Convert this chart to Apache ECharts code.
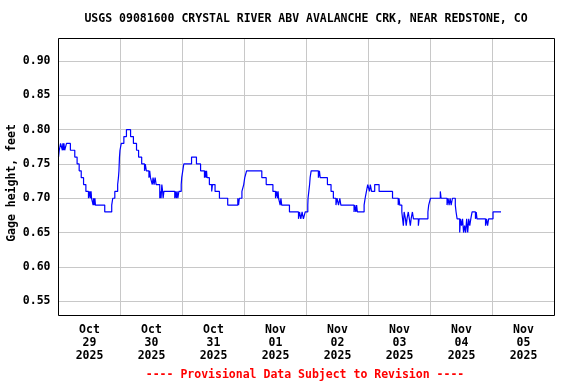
<!DOCTYPE html>
<html>
<head>
<meta charset="utf-8">
<script src="https://cdn.jsdelivr.net/npm/echarts@6/dist/echarts.min.js"></script>
<style>html,body{margin:0;padding:0;background:#fff}#c{width:576px;height:384px}</style>
</head>
<body>
<div id="c"></div>
<script>
// Hours since 2025-10-29 00:00 at which gage height changes, and the new value
var hours = [0,0.3,0.8,1.5,1.7,1.9,2.1,2.4,3.1,4.6,6.3,7.2,8.0,8.8,9.7,10.6,11.6,12.1,12.3,12.6,12.8,13.4,13.6,13.9,14.1,14.3,17.9,20.6,21.0,21.8,22.9,23.2,23.4,23.5,23.6,23.8,24.3,25.3,26.3,27.9,29.0,30.2,31.0,32.2,33.3,33.6,34.0,35.0,35.3,35.6,36.3,36.6,37.0,37.4,37.8,39.2,39.4,39.7,40.0,40.3,40.5,40.8,45.0,45.3,45.6,45.9,46.2,46.6,47.5,47.7,48.1,48.5,51.5,53.4,55.0,56.5,56.8,57.1,57.3,57.5,58.4,59.3,59.6,60.6,62.3,65.5,69.4,69.7,70.0,71.0,71.7,72.1,72.8,78.7,80.4,83.0,84.0,84.4,84.8,85.0,85.2,85.8,86.1,86.4,89.4,92.9,93.3,93.8,94.3,94.8,95.5,96.5,96.6,96.9,97.2,97.4,97.8,100.6,101.0,101.3,104.1,105.5,106.4,107.4,107.8,108.4,108.9,109.3,114.4,114.7,115.1,115.4,115.7,118.3,118.7,119.2,119.7,120.4,120.7,121.2,122.4,124.1,129.3,131.5,131.8,132.1,132.9,133.2,133.5,133.8,134.3,134.6,134.9,135.4,135.8,136.2,136.5,137.0,137.4,139.3,139.6,143.0,143.3,144.0,147.8,148.1,150.4,150.8,151.2,151.6,152.0,152.5,153.6,153.9,154.3,155.3,155.6,156.0,156.4,156.8,157.2,157.6,158.0,158.4,158.8,159.2,159.6,160.1,161.4,161.7,162.0,165.3,165.7,166.1,166.5,168.2,171.3];
var gage = [0.76,0.77,0.78,0.77,0.78,0.77,0.78,0.77,0.78,0.77,0.76,0.75,0.74,0.73,0.72,0.71,0.70,0.71,0.70,0.71,0.70,0.69,0.70,0.69,0.70,0.69,0.68,0.69,0.70,0.71,0.72,0.73,0.74,0.75,0.76,0.77,0.78,0.79,0.80,0.79,0.78,0.77,0.76,0.75,0.74,0.75,0.74,0.73,0.74,0.73,0.72,0.73,0.72,0.73,0.72,0.70,0.71,0.70,0.72,0.71,0.70,0.71,0.70,0.71,0.70,0.71,0.70,0.71,0.72,0.73,0.74,0.75,0.76,0.75,0.74,0.73,0.74,0.73,0.74,0.73,0.72,0.71,0.72,0.71,0.70,0.69,0.70,0.69,0.70,0.71,0.72,0.73,0.74,0.73,0.72,0.71,0.70,0.71,0.70,0.71,0.70,0.69,0.70,0.69,0.68,0.67,0.68,0.67,0.68,0.67,0.68,0.69,0.70,0.71,0.72,0.73,0.74,0.73,0.74,0.73,0.72,0.71,0.70,0.69,0.70,0.69,0.70,0.69,0.68,0.69,0.68,0.69,0.68,0.69,0.70,0.71,0.72,0.71,0.72,0.71,0.72,0.71,0.70,0.69,0.70,0.69,0.68,0.67,0.66,0.68,0.67,0.66,0.67,0.68,0.67,0.66,0.67,0.68,0.67,0.66,0.67,0.68,0.69,0.70,0.71,0.70,0.69,0.70,0.69,0.70,0.69,0.70,0.69,0.68,0.67,0.65,0.67,0.66,0.67,0.65,0.66,0.65,0.67,0.65,0.67,0.66,0.67,0.68,0.67,0.68,0.67,0.66,0.67,0.66,0.67,0.68,0.68];
// Day labels placed at noon of each day (hours 12, 36, ...)
var dayLabels = ['Oct\n29\n2025','Oct\n30\n2025','Oct\n31\n2025','Nov\n01\n2025','Nov\n02\n2025','Nov\n03\n2025','Nov\n04\n2025','Nov\n05\n2025'];
var yTicks = [0.55,0.60,0.65,0.70,0.75,0.80,0.85,0.90];
var titleText = 'USGS 09081600 CRYSTAL RIVER ABV AVALANCHE CRK, NEAR REDSTONE, CO';
var yName = 'Gage height, feet';
var footer = '---- Provisional Data Subject to Revision ----';

var FONT = '"DejaVu Sans Mono", "Liberation Mono", monospace';
var data = hours.map(function(h, i){ return [h, gage[i]]; });

var chart = echarts.init(document.getElementById('c'), null, {renderer:'canvas'});
chart.setOption({
  animation: false,
  backgroundColor: '#fff',
  grid: {left: 58.5, right: 21.5, top: 38.5, bottom: 68.5, show: true, borderColor: '#000', borderWidth: 1, backgroundColor: 'transparent', z: 10},
  xAxis: [
    {type: 'value', min: 0, max: 192, interval: 24,
     axisLine: {show: false}, axisTick: {show: false}, axisLabel: {show: false},
     splitLine: {show: true, lineStyle: {color: '#c8c8c8', width: 1}}},
    {type: 'value', min: 0, max: 192, interval: 12, position: 'bottom',
     axisLine: {show: false}, axisTick: {show: false}, splitLine: {show: false},
     axisLabel: {show: true, margin: 8, color: '#000', fontFamily: FONT, fontWeight: 'bold', fontSize: 11.5, lineHeight: 13,
       showMinLabel: false, showMaxLabel: false, hideOverlap: false,
       formatter: function(v){ var k = Math.round(v); if (k % 24 === 12) { return dayLabels[(k - 12) / 24] || ''; } return ''; }}}
  ],
  yAxis: {type: 'value', min: 0.529, max: 0.933,
    axisLine: {show: false},
    axisTick: {show: false, customValues: yTicks},
    axisLabel: {customValues: yTicks, margin: 8, color: '#000', fontFamily: FONT, fontWeight: 'bold', fontSize: 11.5,
      formatter: function(v){ return v.toFixed(2); }},
    splitLine: {show: true, lineStyle: {color: '#c8c8c8', width: 1}}},
  series: [{
    type: 'line', xAxisIndex: 0, step: 'end', data: data, showSymbol: false, symbol: 'none',
    lineStyle: {color: '#0000ff', width: 1.2}, silent: true
  }],
  graphic: [
    {type: 'text', x: 306, y: 19, style: {text: titleText, font: 'bold 11.5px ' + FONT, fill: '#000', align: 'center', verticalAlign: 'middle'}},
    {type: 'text', x: 12, y: 183, rotation: Math.PI / 2, style: {text: yName, font: 'bold 11.5px ' + FONT, fill: '#000', align: 'center', verticalAlign: 'middle'}},
    {type: 'text', x: 305, y: 375, style: {text: footer, font: 'bold 11.5px ' + FONT, fill: '#ff0000', align: 'center', verticalAlign: 'middle'}}
  ]
});
</script>
</body>
</html>
